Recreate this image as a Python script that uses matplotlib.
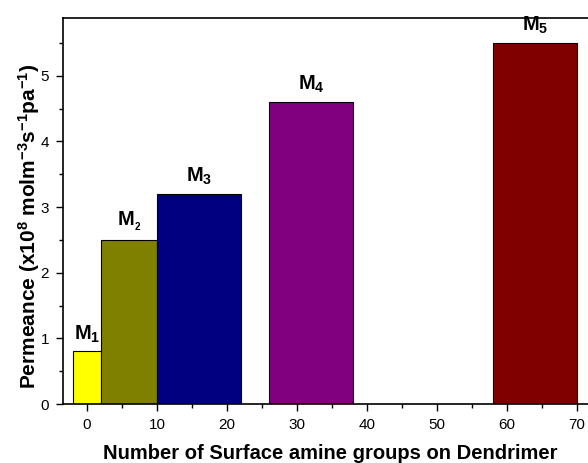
import matplotlib.pyplot as plt
from matplotlib.ticker import MultipleLocator

plt.rcParams.update({
    "font.family": "Liberation Sans",
    "mathtext.fontset": "custom",
    "mathtext.rm": "Liberation Sans",
    "mathtext.bf": "Liberation Sans:bold",
    "mathtext.it": "Liberation Sans:italic",
})

# Membrane data: amine group count (bar centre), bar width, permeance
centers = [0, 6, 16, 32, 64]
widths = [4, 8, 12, 12, 12]
permeance = [0.8, 2.5, 3.2, 4.6, 5.5]
names = [r"$\mathbf{M_1}$", r"$\mathbf{M_{_2}}$", r"$\mathbf{M_3}$",
         r"$\mathbf{M_4}$", r"$\mathbf{M_5}$"]
colors = ["#FFFF00", "#808000", "#000080", "#800080", "#800000"]

fig = plt.figure(figsize=(5.88, 4.63), dpi=100)
ax = fig.add_axes([63 / 588, 59 / 463, 535 / 588, 386 / 463])

ax.bar(centers, permeance, width=widths, color=colors,
       edgecolor="black", linewidth=0.8)

for c, h, n in zip(centers, permeance, names):
    ax.text(c, h + 0.1, n, ha="center", va="bottom", fontsize=14.5)

ax.set_xlim(-3.43, 73)
ax.set_ylim(0, 5.88)
ax.xaxis.set_major_locator(MultipleLocator(10))
ax.xaxis.set_minor_locator(MultipleLocator(5))
ax.yaxis.set_major_locator(MultipleLocator(1))
ax.yaxis.set_minor_locator(MultipleLocator(0.5))
ax.tick_params(which="major", length=5, width=1, labelsize=11, direction="out", pad=5)
ax.tick_params(which="minor", length=3, width=1, direction="out")
ax.spines["right"].set_visible(False)
for s in ["left", "bottom", "top"]:
    ax.spines[s].set_linewidth(1.2)

ax.set_xlabel("Number of Surface amine groups on Dendrimer",
              fontsize=14.5, fontweight="bold", labelpad=9)
ax.set_ylabel(r"Permeance (x10$^{\mathbf{8}}$ molm$^{\mathbf{-3}}$s$^{\mathbf{-1}}$pa$^{\mathbf{-1}}$)",
              fontsize=15, fontweight="bold", labelpad=-1)
ax.yaxis.label.set_y(0.46)

plt.savefig("out.png", dpi=100)
